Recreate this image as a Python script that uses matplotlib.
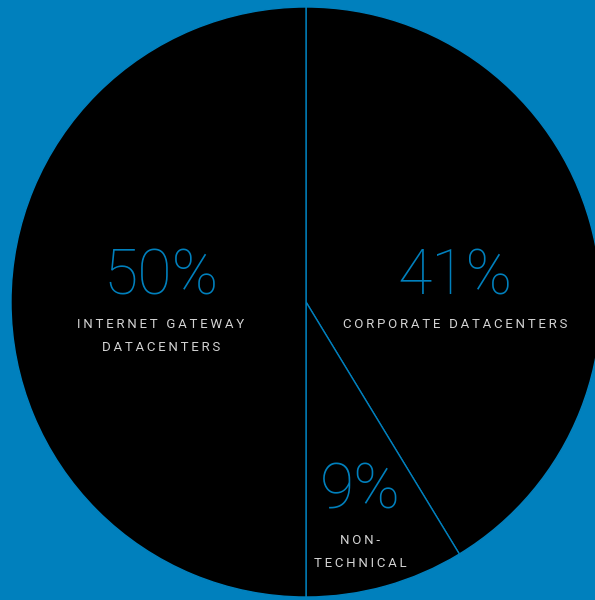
import matplotlib
matplotlib.use("Agg")
import matplotlib.pyplot as plt

# shares of the pie, clockwise from the top (slice angles)
labels = ["CORPORATE DATACENTERS", "NON-\nTECHNICAL", "INTERNET GATEWAY\nDATACENTERS"]
shares = [41.3, 8.7, 50]
pct_text = ["41%", "9%", "50%"]

blue = "#0080bd"
grey = "#d4d4d4"


def tracked(s):
    # widen letter spacing with thin spaces, line by line
    return "\n".join("\u2009".join(line) for line in s.split("\n"))


fig = plt.figure(figsize=(5.95, 6.0), dpi=100)
fig.patch.set_facecolor(blue)
ax = fig.add_axes([0, 0, 1, 1])
ax.set_facecolor(blue)

wedges, _ = ax.pie(shares, center=(306, 298), radius=295, startangle=90,
                   counterclock=False, colors=["black"] * 3,
                   wedgeprops=dict(edgecolor=blue, linewidth=1.0))

# pie() resets the limits, so set them afterwards
ax.set_xlim(0, 595)
ax.set_ylim(0, 600)
ax.set_aspect("equal")
ax.axis("off")

# label anchors in pixels (from top-left)
pct_pos = [(455, 277), (360, 491), (161, 277)]
lab_pos = [(455, 324), (360, 552), (161, 336)]

for p, l, (px, py), (lx, ly) in zip(pct_text, labels, pct_pos, lab_pos):
    ax.text(px, 600 - py, p, color=blue, fontsize=45, family=["Roboto", "DejaVu Sans"],
            fontweight="light", ha="center", va="center")
    ax.text(lx, 600 - ly, tracked(l), color=grey, fontsize=9.5,
            family=["Roboto", "DejaVu Sans"], fontweight="normal",
            ha="center", va="center", linespacing=2.0)

fig.savefig("out.png", dpi=100, facecolor=blue)
